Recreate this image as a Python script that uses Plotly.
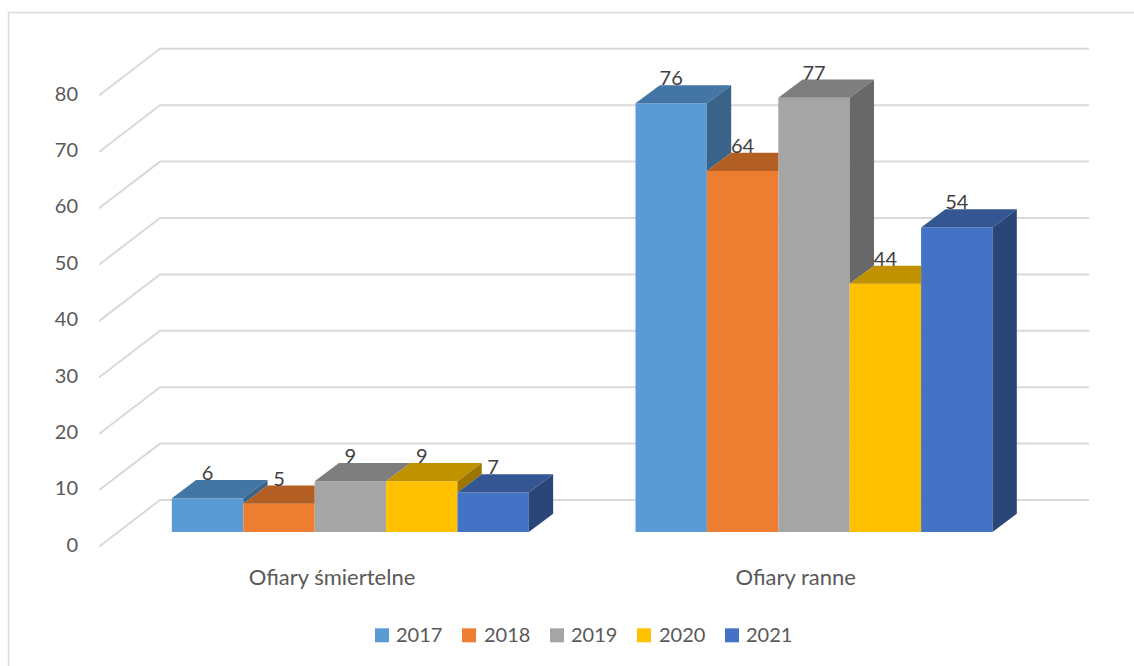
import plotly.graph_objects as go

# ---------- data ----------
categories = ["Ofiary śmiertelne", "Ofiary ranne"]
years = ["2017", "2018", "2019", "2020", "2021"]
v2017 = [6, 76]
v2018 = [5, 64]
v2019 = [9, 77]
v2020 = [9, 44]
v2021 = [7, 54]
series = [v2017, v2018, v2019, v2020, v2021]
y_ticks = [0, 10, 20, 30, 40, 50, 60, 70, 80]

front = ["#5B9BD5", "#ED7D31", "#A5A5A5", "#FFC000", "#4472C4"]
top = ["#4376A4", "#B35E22", "#7E7E7E", "#C09200", "#345794"]
side = ["#3A6389", "#8F4B1B", "#686868", "#9C7600", "#2A4679"]

# ---------- layout constants (pixels) ----------
W, H = 1134, 666
PLOT_L, PLOT_R = 99, 1089
PLOT_T, PLOT_B = 39.1, 546.7
PX_PER_UNIT_Y = 5.64
PX_PER_GROUP = 463.65
G0_PX = 350.35
Y_MAX = (PLOT_B - PLOT_T) / PX_PER_UNIT_Y
X_MIN = (PLOT_L - G0_PX) / PX_PER_GROUP
X_MAX = (PLOT_R - G0_PX) / PX_PER_GROUP

BAR_W = 71.4 / PX_PER_GROUP          # x units
DX = 24.3 / PX_PER_GROUP             # bar depth, x units
DY = 18.2 / PX_PER_UNIT_Y            # bar depth, y units
FLOOR = (PLOT_B - 532) / PX_PER_UNIT_Y  # bar front base above the axis zero
WALL_DX = 61 / PX_PER_GROUP
WALL_DY = 46.7 / PX_PER_UNIT_Y
LABEL_UP = 5 / PX_PER_UNIT_Y
GROUP_W = BAR_W * len(years)
TEXT = "#595959"
FONT = "Lato"

fig = go.Figure()

# front faces: real bars
for i, name in enumerate(years):
    fig.add_trace(go.Bar(x=[0, 1], y=series[i], base=FLOOR, name=name,
                         marker=dict(color=front[i], line=dict(width=0)),
                         showlegend=False, hoverinfo="skip"))

# top and side faces derived from the same values
for g in range(len(categories)):
    for i in range(len(years)):
        v = series[i][g]
        nxt = series[i + 1][g] if i + 1 < len(years) else 0
        xl = g - GROUP_W / 2 + i * BAR_W
        xr = xl + BAR_W
        t = FLOOR + v
        tb = t + DY
        if nxt > v:      # next bar is taller and hides what lies right of this bar
            tx = [xl, xr, xr, xl + DX, xl]
            ty = [t, t, tb, tb, t]
        else:
            tx = [xl, xr, xr + DX, xl + DX, xl]
            ty = [t, t, tb, tb, t]
        fig.add_trace(go.Scatter(x=tx, y=ty, mode="lines", fill="toself",
                                 fillcolor=top[i], line=dict(width=0),
                                 showlegend=False, hoverinfo="skip"))
        if v > nxt:
            low = FLOOR + nxt
            fig.add_trace(go.Scatter(x=[xr, xr + DX, xr + DX, xr, xr],
                                     y=[t, tb, low + DY, low, t],
                                     mode="lines", fill="toself",
                                     fillcolor=side[i], line=dict(width=0),
                                     showlegend=False, hoverinfo="skip"))

# data labels
for i in range(len(years)):
    fig.add_trace(go.Scatter(
        x=[g - GROUP_W / 2 + (i + 0.5) * BAR_W for g in range(len(categories))],
        y=[FLOOR + v + DY + LABEL_UP for v in series[i]],
        mode="text", text=[str(v) for v in series[i]],
        textposition="middle center",
        textfont=dict(family=FONT, size=20, color="#404040"),
        cliponaxis=False, showlegend=False, hoverinfo="skip"))

shapes = []
# gridlines: side wall + back wall
for v in y_ticks:
    path = (f"M {X_MIN} {v} L {X_MIN + WALL_DX} {v + WALL_DY} "
            f"L {X_MAX} {v + WALL_DY}")
    shapes.append(dict(type="path", xref="x", yref="y", path=path,
                       line=dict(color="#D9D9D9", width=2), layer="below"))

# outer frame
shapes.append(dict(type="rect", xref="paper", yref="paper",
                   x0=8.5 / W, x1=1.01, y0=-0.01, y1=1 - 12.5 / H,
                   line=dict(color="#D9D9D9", width=1.5), layer="below"))

# legend
LEG_SQ = [375, 462, 550, 637, 725]
LEG_TXT = [394.7, 482.5, 570, 657.7, 745]
LEG_Y = 635.3
LEG_TXT_Y = 634
annotations = []
for i, name in enumerate(years):
    shapes.append(dict(type="rect", xref="paper", yref="paper",
                       x0=LEG_SQ[i] / W, x1=(LEG_SQ[i] + 14) / W,
                       y0=1 - (LEG_Y + 7) / H, y1=1 - (LEG_Y - 7) / H,
                       fillcolor=front[i], line=dict(width=0)))
    annotations.append(dict(xref="paper", yref="paper",
                            x=LEG_TXT[i] / W, y=1 - LEG_TXT_Y / H,
                            text=name, showarrow=False, xanchor="left",
                            yanchor="middle", borderpad=0,
                            font=dict(family=FONT, size=20, color=TEXT)))

fig.update_layout(
    width=W, height=H, autosize=False,
    margin=dict(l=0, r=0, t=0, b=0, pad=0),
    paper_bgcolor="white", plot_bgcolor="white",
    barmode="group", bargap=1 - GROUP_W, bargroupgap=0,
    showlegend=False,
    shapes=shapes, annotations=annotations,
    font=dict(family=FONT, size=20, color=TEXT),
    xaxis=dict(domain=[PLOT_L / W, PLOT_R / W], range=[X_MIN, X_MAX],
               tickvals=[g - 18.35 / PX_PER_GROUP for g in range(len(categories))],
               ticktext=categories, showgrid=False, zeroline=False,
               showline=False, ticks="", ticklabelstandoff=15, automargin=False,
               tickfont=dict(family=FONT, size=22, color=TEXT)),
    yaxis=dict(domain=[1 - PLOT_B / H, 1 - PLOT_T / H], range=[0, Y_MAX],
               tickvals=y_ticks, showgrid=False, zeroline=False,
               showline=False, ticks="", ticklabelstandoff=20, ticklabelshift=-2,
               automargin=False,
               tickfont=dict(family=FONT, size=20, color=TEXT)),
)

fig.write_html("out.html", config={"displayModeBar": False},
               post_script="document.body.style.margin='0';document.body.style.overflow='hidden';")
